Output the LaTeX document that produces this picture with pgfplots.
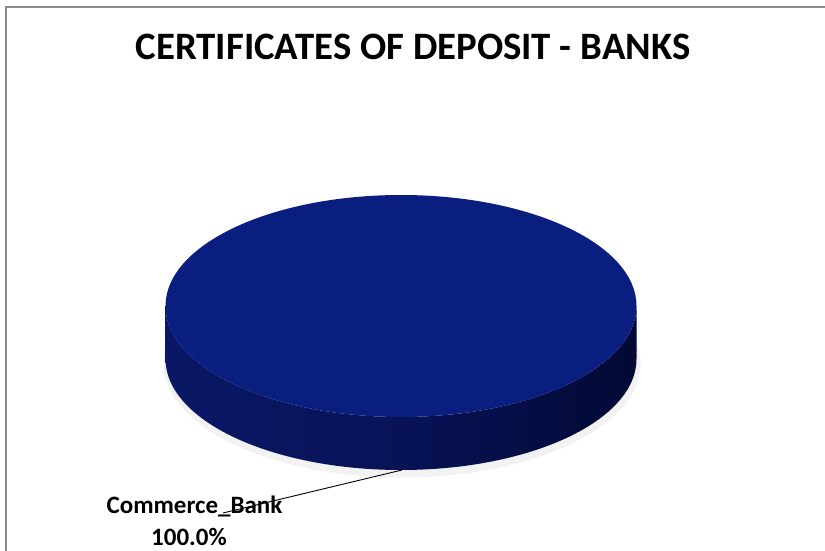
\documentclass[border=0pt]{standalone}
\usepackage{pgfplots}
\pgfplotsset{compat=1.18}
\usepackage{pgfplotstable}
\usepackage{fontspec}
\setmainfont{Carlito}
\definecolor{topface}{HTML}{0A1E80}
\definecolor{sideL}{HTML}{0A1766}
\definecolor{sideR}{HTML}{020934}
\definecolor{frame}{HTML}{8C8C8C}
\pgfplotstableread[col sep=comma]{
name,value
Commerce_Bank,100
}\piedata
\begin{document}
\begin{tikzpicture}
\begin{axis}[x=1bp,y=1bp,scale only axis,hide axis,
  anchor=origin,at={(0,0)},
  xmin=0,xmax=825,ymin=0,ymax=551,clip=false]
\pgfplotstablegetelem{0}{value}\of\piedata
\pgfmathsetmacro{\endang}{3.6*\pgfplotsretval}
% background
\fill[white] (axis cs:0,0) rectangle (axis cs:825,551);
% frame
\draw[frame,line width=1.6bp] (axis cs:6,0) -- (axis cs:6,544) -- (axis cs:824.9,544);
% title
\node[font=\bfseries\fontsize{38.8bp}{44bp}\selectfont,anchor=base] at (axis cs:413,491) {CERTIFICATES OF DEPOSIT - BANKS};
% shadow
\fill[black!9] (axis cs:401,189) ellipse [x radius=237, y radius=112.5];
\fill[black!5] (axis cs:402,187.5) ellipse [x radius=238.5, y radius=114];
% side
\shade[left color=sideL,right color=sideR,middle color=sideL!70!sideR]
  (axis cs:165.5,245) -- (axis cs:165.5,192)
  arc[start angle=180,end angle=360,x radius=235.5,y radius=111]
  -- (axis cs:636.5,245)
  arc[start angle=0,end angle=-180,x radius=235.5,y radius=111] -- cycle;
% top face (the single slice, 100%)
\fill[topface] (axis cs:636.5,245)
  arc[start angle=0,end angle=\endang,x radius=235.5,y radius=111] -- cycle;
% leader line
\draw[black,line width=0.9bp] (axis cs:402,81) -- (axis cs:223,38);
% labels
\node[font=\bfseries\fontsize{25bp}{28bp}\selectfont,anchor=base] at (axis cs:194.5,38) {Commerce\_Bank};
\node[font=\bfseries\fontsize{25bp}{28bp}\selectfont,anchor=base] at (axis cs:189,6) {100.0\%};
\end{axis}
\pgfresetboundingbox
\path (0,0) rectangle (825bp,551bp);
\end{tikzpicture}
\end{document}
